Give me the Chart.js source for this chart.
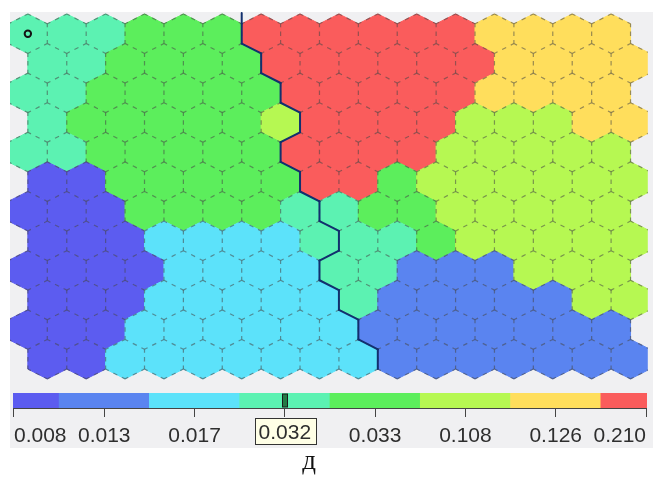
<!DOCTYPE html>
<html>
<head>
<meta charset="utf-8">
<script src="https://cdn.jsdelivr.net/npm/chart.js@4.4.0/dist/chart.umd.min.js"></script>
<style>
  html, body { margin: 0; padding: 0; background: #fff; }
  #wrap { position: relative; width: 653px; height: 480px; overflow: hidden; }
  #panel { position: absolute; left: 10px; top: 12px; width: 643px; height: 436px; background: #f0f0f2; }
  #map { position: absolute; left: 0; top: 0; }
  #bar { position: absolute; left: 0; top: 390px; }
  #caption { position: absolute; left: 0; top: 447px; width: 618px; text-align: center;
             font: 27px 'Liberation Serif', 'DejaVu Serif', serif; line-height: 27px; color: #111; }
</style>
</head>
<body>
<div id="wrap">
  <div id="panel"></div>
  <canvas id="map" width="653" height="390"></canvas>
  <canvas id="bar" width="653" height="58"></canvas>
  <div id="caption">д</div>
</div>
<script>
// значения шкалы (подписи легенды)
const legendValues = ['0.008', '0.013', '0.017', '0.032', '0.033', '0.108', '0.126', '0.210'];
const clusterColors = ['#5c5cf0', '#5a84f0', '#5ce2fa', '#5cf2b2', '#5cee5c', '#b6f852', '#ffde5c', '#fa5c5c'];

// номер цвета шкалы для каждой ячейки карты, 12 рядов по 16
const mapClusters = [
  [3, 3, 3, 4, 4, 4, 7, 7, 7, 7, 7, 7, 6, 6, 6, 6],
  [3, 3, 4, 4, 4, 4, 7, 7, 7, 7, 7, 7, 6, 6, 6, 6],
  [3, 3, 4, 4, 4, 4, 4, 7, 7, 7, 7, 7, 6, 6, 6, 6],
  [3, 4, 4, 4, 4, 4, 5, 7, 7, 7, 7, 5, 5, 5, 6, 6],
  [3, 3, 4, 4, 4, 4, 4, 7, 7, 7, 7, 5, 5, 5, 5, 5],
  [0, 0, 4, 4, 4, 4, 4, 7, 7, 4, 5, 5, 5, 5, 5, 5],
  [0, 0, 0, 4, 4, 4, 4, 3, 3, 4, 4, 5, 5, 5, 5, 5],
  [0, 0, 0, 2, 2, 2, 2, 3, 3, 3, 4, 5, 5, 5, 5, 5],
  [0, 0, 0, 0, 2, 2, 2, 2, 3, 3, 1, 1, 1, 5, 5, 5],
  [0, 0, 0, 2, 2, 2, 2, 2, 3, 1, 1, 1, 1, 1, 5, 5],
  [0, 0, 0, 2, 2, 2, 2, 2, 2, 1, 1, 1, 1, 1, 1, 1],
  [0, 0, 2, 2, 2, 2, 2, 2, 2, 1, 1, 1, 1, 1, 1, 1]
];
// сколько ячеек каждого ряда лежит слева от границы кластеров
const boundarySplit = [6, 6, 7, 7, 7, 7, 8, 8, 8, 8, 9, 9];
const markedCell = { row: 0, col: 0 };
const markedIndex = 3;

const cells = [];
mapClusters.forEach((row, r) => {
  row.forEach((v, c) => {
    cells.push({ x: c + (r % 2) * 0.5, y: r, v: v, row: r, col: c });
  });
});

// вершины шестиугольника в единицах сетки
const corners = [[0, -2 / 3], [0.5, -1 / 3], [0.5, 1 / 3], [0, 2 / 3], [-0.5, 1 / 3], [-0.5, -1 / 3]];

const hexPlugin = {
  id: 'hexCells',
  beforeDatasetsDraw(chart) {
    const { ctx, chartArea, scales: { x, y } } = chart;
    const data = chart.data.datasets[0].data;
    const pts = c => corners.map(([dx, dy]) => [x.getPixelForValue(c.x + dx), y.getPixelForValue(c.y + dy)]);

    ctx.save();
    ctx.beginPath();
    ctx.rect(chartArea.left, chartArea.top, chartArea.right - chartArea.left, chartArea.bottom - chartArea.top);
    ctx.clip();

    // заливка
    data.forEach(c => {
      const p = pts(c);
      ctx.beginPath();
      p.forEach(([px, py], i) => (i ? ctx.lineTo(px, py) : ctx.moveTo(px, py)));
      ctx.closePath();
      ctx.fillStyle = clusterColors[c.v];
      ctx.strokeStyle = clusterColors[c.v];
      ctx.lineWidth = 1;
      ctx.fill();
      ctx.stroke();
    });

    // пунктир по рёбрам
    const seen = new Set();
    ctx.strokeStyle = 'rgba(70, 70, 70, 0.55)';
    ctx.lineWidth = 1.2;
    data.forEach(c => {
      const p = pts(c);
      for (let i = 0; i < 6; i++) {
        const a = p[i], b = p[(i + 1) % 6];
        const k1 = Math.round(a[0]) + ',' + Math.round(a[1]);
        const k2 = Math.round(b[0]) + ',' + Math.round(b[1]);
        const key = k1 < k2 ? k1 + '|' + k2 : k2 + '|' + k1;
        if (seen.has(key)) continue;
        seen.add(key);
        const len = Math.hypot(b[0] - a[0], b[1] - a[1]);
        const end = 3.5, mid = 4.5, gap = (len - 2 * end - mid) / 2;
        ctx.setLineDash([end, gap, mid, gap, end + 20]);
        ctx.beginPath();
        ctx.moveTo(a[0], a[1]);
        ctx.lineTo(b[0], b[1]);
        ctx.stroke();
      }
    });
    ctx.setLineDash([]);

    // граница кластеров
    const side = (r, c) => (c < boundarySplit[r] ? 0 : 1);
    const byPos = {};
    data.forEach(c => { byPos[c.row + ':' + c.col] = c; });
    ctx.strokeStyle = '#12306e';
    ctx.lineWidth = 2;
    ctx.lineCap = 'round';
    const seg = (a, b) => {
      ctx.beginPath();
      ctx.moveTo(a[0], a[1]);
      ctx.lineTo(b[0], b[1]);
      ctx.stroke();
    };
    data.forEach(c => {
      const p = pts(c);
      const s = side(c.row, c.col);
      const right = byPos[c.row + ':' + (c.col + 1)];
      if (right && side(right.row, right.col) !== s) {
        seg(p[1], p[2]);
        // верхний ряд: линия доходит до края карты
        if (c.row === 0) seg(p[1], [p[1][0], chartArea.top + 1]);
      }
      const odd = c.row % 2;
      const ll = byPos[(c.row + 1) + ':' + (odd ? c.col : c.col - 1)];
      const lr = byPos[(c.row + 1) + ':' + (odd ? c.col + 1 : c.col)];
      if (lr && side(lr.row, lr.col) !== s) seg(p[2], p[3]);
      if (ll && side(ll.row, ll.col) !== s) seg(p[3], p[4]);
    });
    ctx.restore();
  }
};

new Chart(document.getElementById('map'), {
  type: 'scatter',
  data: {
    datasets: [
      { data: cells, pointRadius: 0, pointHoverRadius: 0 },
      {
        data: [{ x: markedCell.col + (markedCell.row % 2) * 0.5, y: markedCell.row }],
        pointRadius: 3.2, pointHoverRadius: 3.2, borderWidth: 2,
        borderColor: '#141414', backgroundColor: 'rgba(0,0,0,0)'
      }
    ]
  },
  options: {
    responsive: false,
    animation: false,
    events: [],
    layout: { padding: { left: 10, top: 12, right: 0, bottom: 0 } },
    plugins: { legend: { display: false }, tooltip: { enabled: false } },
    scales: {
      x: { type: 'linear', display: false, min: -18 / 39.2, max: -18 / 39.2 + 643 / 39.2 },
      y: { type: 'linear', display: false, reverse: true, min: -22 / 30, max: -22 / 30 + 378 / 30 }
    }
  },
  plugins: [hexPlugin]
});

const BAR_MIN = -1 / 91.14;
const BAR_MAX = 7 + 1 / 91.14;
const tickFont = { family: "'Liberation Sans', Arial, sans-serif", size: 21 };

const markerPlugin = {
  id: 'scaleMarker',
  afterDraw(chart) {
    const { ctx, chartArea, scales: { x } } = chart;
    const px = x.getPixelForValue(markedIndex);
    // бегунок на шкале
    ctx.save();
    ctx.fillStyle = '#237a45';
    ctx.strokeStyle = '#1a1a1a';
    ctx.lineWidth = 1;
    ctx.fillRect(Math.round(px) - 2.5, chartArea.top + 1, 5, chartArea.bottom - chartArea.top - 2);
    ctx.strokeRect(Math.round(px) - 2.5, chartArea.top + 1, 5, chartArea.bottom - chartArea.top - 2);
    // подпись в рамке
    const label = legendValues[markedIndex];
    ctx.font = tickFont.size + 'px ' + tickFont.family;
    const w = ctx.measureText(label).width;
    const bx = Math.round(px - w / 2 - 4) + 0.5;
    const bw = Math.round(w + 8);
    ctx.fillStyle = '#ffffe6';
    ctx.fillRect(bx, 28.5, bw, 26);
    ctx.strokeStyle = '#333';
    ctx.strokeRect(bx, 28.5, bw, 26);
    ctx.fillStyle = '#2e2e2e';
    ctx.textAlign = 'center';
    ctx.textBaseline = 'middle';
    ctx.fillText(label, px, 43.5);
    ctx.restore();
  }
};

new Chart(document.getElementById('bar'), {
  type: 'bar',
  data: {
    labels: ['scale'],
    datasets: [{
      data: legendValues.map((_, i) => ({ y: 'scale', x: [Math.max(i - 0.5, BAR_MIN), Math.min(i + 0.5, BAR_MAX)] })),
      backgroundColor: clusterColors,
      borderWidth: 0,
      borderSkipped: false,
      barPercentage: 1,
      categoryPercentage: 1
    }]
  },
  options: {
    indexAxis: 'y',
    responsive: false,
    animation: false,
    events: [],
    layout: { padding: { left: 13, right: 0, top: 3, bottom: 0 } },
    plugins: { legend: { display: false }, tooltip: { enabled: false } },
    scales: {
      y: { display: false },
      x: {
        type: 'linear',
        min: BAR_MIN,
        max: BAR_MAX,
        afterBuildTicks: s => { s.ticks = legendValues.map((_, i) => ({ value: i })); },
        afterFit: s => { s.height = 40; },
        grid: { drawOnChartArea: false, drawTicks: true, tickLength: 9, color: '#444' },
        border: { color: '#444', width: 1 },
        ticks: {
          align: 'inner',
          padding: 7,
          maxRotation: 0,
          autoSkip: false,
          font: tickFont,
          color: c => (c.index === markedIndex ? 'rgba(0,0,0,0)' : '#2e2e2e'),
          callback: (v, i) => legendValues[i]
        }
      }
    }
  },
  plugins: [markerPlugin]
});
</script>
</body>
</html>
